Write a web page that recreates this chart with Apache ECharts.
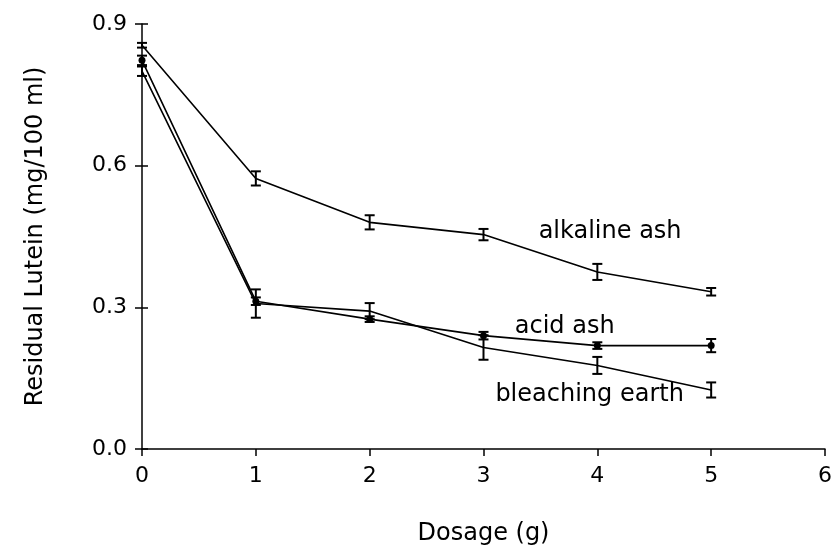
<!DOCTYPE html>
<html><head><meta charset="utf-8">
<script src="https://cdn.jsdelivr.net/npm/echarts@6/dist/echarts.min.js"></script>
<style>html,body{margin:0;padding:0;background:#fff}#c{width:835px;height:551px}</style>
</head><body><div id="c"></div>
<script>
const dosage = [0, 1, 2, 3, 4, 5];
const alkalineAsh = [0.855, 0.573, 0.480, 0.454, 0.375, 0.333];
const alkalineErr = [0.005, 0.015, 0.015, 0.012, 0.017, 0.008];
const acidAsh = [0.823, 0.313, 0.275, 0.240, 0.219, 0.219];
const acidErr = [0.01, 0.008, 0.006, 0.008, 0.007, 0.014];
const bleachingEarth = [0.80, 0.308, 0.292, 0.215, 0.177, 0.125];
const bleachingErr = [0.01, 0.03, 0.017, 0.026, 0.018, 0.016];
const yTicks = [0.0, 0.3, 0.6, 0.9];
const xTicks = [0, 1, 2, 3, 4, 5, 6];
const seriesLabels = ['alkaline ash', 'acid ash', 'bleaching earth'];
const labelAnchors = [[3.48, 0.461], [3.27, 0.258], [3.1, 0.115]];

const FONT = 'DejaVu Sans';
const chart = echarts.init(document.getElementById('c'), null, {renderer: 'canvas'});

function pts(vals) { return dosage.map((d, i) => [d, vals[i]]); }
function errData(vals, errs) { return dosage.map((d, i) => [d, vals[i] - errs[i], vals[i] + errs[i]]); }
function errSeries(vals, errs) {
  return {
    type: 'custom', xAxisIndex: 0, yAxisIndex: 0, z: 5,
    data: errData(vals, errs),
    renderItem: function (params, api) {
      const x = api.value(0);
      const lo = api.coord([x, api.value(1)]);
      const hi = api.coord([x, api.value(2)]);
      const w = 5;
      const st = {stroke: '#000', lineWidth: 2};
      return {type: 'group', children: [
        {type: 'line', shape: {x1: lo[0], y1: lo[1], x2: hi[0], y2: hi[1]}, style: st},
        {type: 'line', shape: {x1: lo[0] - w, y1: lo[1], x2: lo[0] + w, y2: lo[1]}, style: st},
        {type: 'line', shape: {x1: hi[0] - w, y1: hi[1], x2: hi[0] + w, y2: hi[1]}, style: st}
      ]};
    }
  };
}
function seriesLabel(i) {
  return {
    symbol: 'rect', symbolSize: 1, itemStyle: {color: 'rgba(0,0,0,0)'},
    data: [{coord: labelAnchors[i]}],
    label: {show: true, formatter: seriesLabels[i], color: '#000', fontSize: 24, fontFamily: FONT,
      position: 'right', distance: 0}
  };
}

const lineStyle = {color: '#000', width: 1.6};
chart.setOption({
  animation: false,
  backgroundColor: '#fff',
  textStyle: {fontFamily: FONT},
  grid: {left: 142, right: 8, top: 24, bottom: 97, containLabel: false},
  xAxis: [{
    type: 'value', min: 0, max: 6, interval: 1,
    axisLine: {lineStyle: {color: '#000', width: 1.5}},
    axisTick: {show: true, length: 7, lineStyle: {color: '#000', width: 1.5}},
    axisLabel: {color: '#000', fontSize: 22, margin: 16, fontFamily: FONT,
      formatter: v => xTicks.includes(v) ? String(v) : ''},
    splitLine: {show: false},
    name: 'Dosage (g)', nameLocation: 'middle', nameGap: 73,
    nameTextStyle: {color: '#000', fontSize: 24, fontFamily: FONT}
  }],
  yAxis: [{
    type: 'value', min: 0, max: 0.9, interval: 0.3,
    axisLine: {show: true, lineStyle: {color: '#000', width: 1.5}},
    axisTick: {show: true, length: 7, lineStyle: {color: '#000', width: 1.5}},
    axisLabel: {color: '#000', fontSize: 22, margin: 15, fontFamily: FONT,
      formatter: v => yTicks.some(t => Math.abs(t - v) < 1e-9) ? v.toFixed(1) : ''},
    splitLine: {show: false},
    name: 'Residual Lutein (mg/100 ml)', nameLocation: 'middle', nameGap: 94,
    nameTextStyle: {color: '#000', fontSize: 24, fontFamily: FONT}
  }, {
    type: 'value', min: 0, max: 0.9, interval: 0.3, position: 'left', offset: 0,
    axisLine: {show: false}, axisLabel: {show: false}, splitLine: {show: false},
    axisTick: {show: true, inside: true, length: 6, lineStyle: {color: '#000', width: 1.5}}
  }],
  series: [
    {type: 'line', name: seriesLabels[0], data: pts(alkalineAsh), symbol: 'none', lineStyle: lineStyle, z: 3,
      markPoint: seriesLabel(0)},
    {type: 'line', name: seriesLabels[1], data: pts(acidAsh), symbol: 'circle', symbolSize: 7,
      itemStyle: {color: '#000'}, lineStyle: lineStyle, z: 3, markPoint: seriesLabel(1)},
    {type: 'line', name: seriesLabels[2], data: pts(bleachingEarth), symbol: 'none', lineStyle: lineStyle, z: 3,
      markPoint: seriesLabel(2)},
    errSeries(alkalineAsh, alkalineErr),
    errSeries(acidAsh, acidErr),
    errSeries(bleachingEarth, bleachingErr)
  ]
});
</script></body></html>
